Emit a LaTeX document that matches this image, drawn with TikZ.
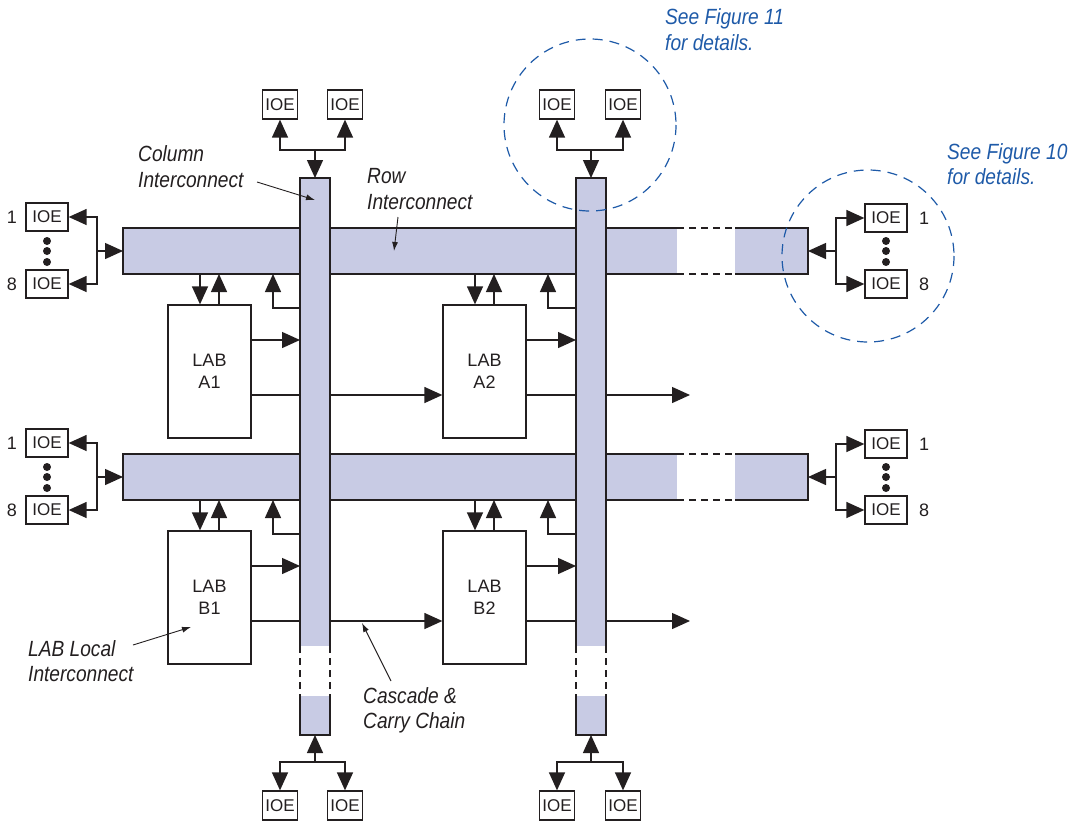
\documentclass[tikz,border=0pt]{standalone}
\usepackage{fontspec}
\setmainfont{Liberation Sans}
\newfontfamily\calloutfont[FakeStretch=0.87]{Liberation Sans}
\usetikzlibrary{arrows.meta}
\definecolor{shade}{RGB}{200,203,228}
\definecolor{ink}{RGB}{35,31,32}
\definecolor{noteblue}{RGB}{30,90,168}
\tikzset{
  ln/.style={draw=ink, line width=1.4pt},
  arr/.style={ln, -{Triangle[length=18pt,width=16pt]}},
  ioe/.style={draw=ink, line width=1.3pt, fill=white, minimum width=35pt, minimum height=29pt, inner sep=0pt, text=ink, font=\fontsize{17}{17}\selectfont},
  ioew/.style={ioe, minimum width=42pt, minimum height=28pt},
  lab/.style={draw=ink, line width=1.3pt, fill=white, minimum width=83pt, minimum height=133pt, inner sep=0pt, align=center, text=ink, font=\fontsize{18}{22}\selectfont},
  band/.style={fill=shade, inner sep=0pt, outer sep=0pt},
  callout/.style={font=\calloutfont\itshape\fontsize{22}{26}\selectfont, anchor=base west, inner sep=0pt, text=ink},
  note/.style={callout, text=noteblue},
  ptr/.style={draw=ink, line width=0.9pt, -{Latex[length=9pt,width=6pt]}},
  dot/.style={circle, fill=ink, inner sep=0pt, minimum size=8pt},
  num/.style={font=\fontsize{18}{18}\selectfont, inner sep=0pt, text=ink},
  gap/.style={draw=ink, line width=1.4pt, dash pattern=on 7pt off 5pt},
  ring/.style={draw=noteblue, line width=1.2pt, dash pattern=on 10pt off 7pt},
}
\begin{document}
\begin{tikzpicture}[x=1pt,y=-1pt]
\useasboundingbox (0,0) rectangle (1079,822);

% ---------- rows ----------
\node[band, minimum width=554pt, minimum height=46pt] (R1) at (400,251) {};
\node[band, minimum width=73pt, minimum height=46pt] (R1x) at (771.5,251) {};
\draw[ln] (R1.north east) -- (R1.north west) -- (R1.south west) -- (R1.south east);
\draw[gap] (R1.north east) -- (R1x.north west);
\draw[gap] (R1.south east) -- (R1x.south west);
\draw[ln] (R1x.north west) -- (R1x.north east) -- (R1x.south east) -- (R1x.south west);

\node[band, minimum width=554pt, minimum height=46pt] (R2) at (400,477) {};
\node[band, minimum width=73pt, minimum height=46pt] (R2x) at (771.5,477) {};
\draw[ln] (R2.north east) -- (R2.north west) -- (R2.south west) -- (R2.south east);
\draw[gap] (R2.north east) -- (R2x.north west);
\draw[gap] (R2.south east) -- (R2x.south west);
\draw[ln] (R2x.north west) -- (R2x.north east) -- (R2x.south east) -- (R2x.south west);

% ---------- LABs ----------
\node[lab] (A1) at (209.5,371.5) {LAB\\A1};
\node[lab] (A2) at (484.5,371.5) {LAB\\A2};
\node[lab] (B1) at (209.5,597.5) {LAB\\B1};
\node[lab] (B2) at (484.5,597.5) {LAB\\B2};

% chain lines (pass under the columns)
\coordinate (oA) at (690,395);
\coordinate (oB) at (690,621);
\draw[arr] (A1.east |- 0,395) -- (A2.west |- 0,395);
\draw[arr] (A2.east |- 0,395) -- (oA);
\draw[arr] (B1.east |- 0,621) -- (B2.west |- 0,621);
\draw[arr] (B2.east |- 0,621) -- (oB);

% ---------- columns ----------
\node[band, minimum width=30pt, minimum height=468pt] (C1) at (315,412) {};
\node[band, minimum width=30pt, minimum height=39pt] (C1x) at (315,715.5) {};
\draw[ln] (C1.south west) -- (C1.north west) -- (C1.north east) -- (C1.south east);
\draw[gap] (C1.south west) -- (C1x.north west);
\draw[gap] (C1.south east) -- (C1x.north east);
\draw[ln] (C1x.north west) -- (C1x.south west) -- (C1x.south east) -- (C1x.north east);

\node[band, minimum width=30pt, minimum height=468pt] (C2) at (591,412) {};
\node[band, minimum width=30pt, minimum height=39pt] (C2x) at (591,715.5) {};
\draw[ln] (C2.south west) -- (C2.north west) -- (C2.north east) -- (C2.south east);
\draw[gap] (C2.south west) -- (C2x.north west);
\draw[gap] (C2.south east) -- (C2x.north east);
\draw[ln] (C2x.north west) -- (C2x.south west) -- (C2x.south east) -- (C2x.north east);

% ---------- LAB <-> row / column ----------
\draw[arr] (200,0 |- R1.south) -- (200,0 |- A1.north);
\draw[arr] (219,0 |- A1.north) -- (219,0 |- R1.south);
\draw[arr] (C1.west |- 0,308) -| (273,0 |- R1.south);
\draw[arr] (A1.east |- 0,340) -- (C1.west |- 0,340);

\draw[arr] (475,0 |- R1.south) -- (475,0 |- A2.north);
\draw[arr] (494,0 |- A2.north) -- (494,0 |- R1.south);
\draw[arr] (C2.west |- 0,308) -| (548,0 |- R1.south);
\draw[arr] (A2.east |- 0,340) -- (C2.west |- 0,340);

\draw[arr] (200,0 |- R2.south) -- (200,0 |- B1.north);
\draw[arr] (219,0 |- B1.north) -- (219,0 |- R2.south);
\draw[arr] (C1.west |- 0,534) -| (273,0 |- R2.south);
\draw[arr] (B1.east |- 0,566) -- (C1.west |- 0,566);

\draw[arr] (475,0 |- R2.south) -- (475,0 |- B2.north);
\draw[arr] (494,0 |- B2.north) -- (494,0 |- R2.south);
\draw[arr] (C2.west |- 0,534) -| (548,0 |- R2.south);
\draw[arr] (B2.east |- 0,566) -- (C2.west |- 0,566);

% ---------- top IOEs ----------
\node[ioe] (T1a) at (280,104.5) {IOE};
\node[ioe] (T1b) at (345,104.5) {IOE};
\coordinate (J1) at (315,150);
\draw[arr] (J1) -| (T1a.south);
\draw[arr] (J1) -| (T1b.south);
\draw[arr] (J1) -- (C1.north);

\node[ioe] (T2a) at (557,104.5) {IOE};
\node[ioe] (T2b) at (623,104.5) {IOE};
\coordinate (J2) at (591,150);
\draw[arr] (J2) -| (T2a.south);
\draw[arr] (J2) -| (T2b.south);
\draw[arr] (J2) -- (C2.north);

% ---------- bottom IOEs ----------
\node[ioe] (D1a) at (280,805.5) {IOE};
\node[ioe] (D1b) at (345,805.5) {IOE};
\coordinate (K1) at (315,762);
\draw[arr] (K1) -- (C1x.south);
\draw[arr] (K1) -| (D1a.north);
\draw[arr] (K1) -| (D1b.north);

\node[ioe] (D2a) at (557,805.5) {IOE};
\node[ioe] (D2b) at (623,805.5) {IOE};
\coordinate (K2) at (591,762);
\draw[arr] (K2) -- (C2x.south);
\draw[arr] (K2) -| (D2a.north);
\draw[arr] (K2) -| (D2b.north);

% ---------- left IOE stacks ----------
\node[ioew] (L1a) at (47,217) {IOE};
\node[ioew] (L1b) at (47,284) {IOE};
\node[dot] (L1d1) at (47,241) {};
\node[dot] (L1d2) at (47,251) {};
\node[dot] (L1d3) at (47,262) {};
\node[num] (L1n1) at (12,217) {1};
\node[num] (L1n8) at (12,284) {8};
\coordinate (JL1) at (97,251);
\draw[arr] (JL1) |- (L1a.east);
\draw[arr] (JL1) |- (L1b.east);
\draw[arr] (JL1) -- (R1.west);

\node[ioew] (L2a) at (47,443) {IOE};
\node[ioew] (L2b) at (47,510) {IOE};
\node[dot] (L2d1) at (47,467) {};
\node[dot] (L2d2) at (47,477) {};
\node[dot] (L2d3) at (47,488) {};
\node[num] (L2n1) at (12,443) {1};
\node[num] (L2n8) at (12,510) {8};
\coordinate (JL2) at (97,477);
\draw[arr] (JL2) |- (L2a.east);
\draw[arr] (JL2) |- (L2b.east);
\draw[arr] (JL2) -- (R2.west);

% ---------- right IOE stacks ----------
\node[ioew] (Q1a) at (886,218) {IOE};
\node[ioew] (Q1b) at (886,284) {IOE};
\node[dot] (Q1d1) at (886,241) {};
\node[dot] (Q1d2) at (886,251) {};
\node[dot] (Q1d3) at (886,262) {};
\node[num] (Q1n1) at (924,218) {1};
\node[num] (Q1n8) at (924,284) {8};
\coordinate (JR1) at (836,251);
\draw[arr] (JR1) -- (R1x.east);
\draw[arr] (JR1) |- (Q1a.west);
\draw[arr] (JR1) |- (Q1b.west);

\node[ioew] (Q2a) at (886,444) {IOE};
\node[ioew] (Q2b) at (886,510) {IOE};
\node[dot] (Q2d1) at (886,467) {};
\node[dot] (Q2d2) at (886,477) {};
\node[dot] (Q2d3) at (886,488) {};
\node[num] (Q2n1) at (924,444) {1};
\node[num] (Q2n8) at (924,510) {8};
\coordinate (JR2) at (836,477);
\draw[arr] (JR2) -- (R2x.east);
\draw[arr] (JR2) |- (Q2a.west);
\draw[arr] (JR2) |- (Q2b.west);

% ---------- callouts ----------
\node[callout] (colA) at (138,161) {Column};
\node[callout] (colB) at (138,187) {Interconnect};
\coordinate (pc0) at (257,182);
\coordinate (pc1) at (315,200);
\draw[ptr] (pc0) -- (pc1);

\node[callout] (rowA) at (367,183) {Row};
\node[callout] (rowB) at (367,209) {Interconnect};
\coordinate (pr0) at (398,217);
\coordinate (pr1) at (394,251);
\draw[ptr] (pr0) -- (pr1);

\node[callout] (locA) at (28,656) {LAB Local};
\node[callout] (locB) at (28,681) {Interconnect};
\coordinate (pl0) at (133,645);
\coordinate (pl1) at (191,627);
\draw[ptr] (pl0) -- (pl1);

\node[callout] (casA) at (363,703) {Cascade \&};
\node[callout] (casB) at (363,728) {Carry Chain};
\coordinate (pk0) at (391,681);
\coordinate (pk1) at (362,623);
\draw[ptr] (pk0) -- (pk1);

% ---------- detail notes ----------
\draw[ring] (590,125) circle[radius=86];
\draw[ring] (868,256) circle[radius=86];
\node[note] (n11a) at (665,24) {See Figure 11};
\node[note] (n11b) at (665,50) {for details.};
\node[note] (n10a) at (947,159) {See Figure 10};
\node[note] (n10b) at (947,184) {for details.};
\end{tikzpicture}
\end{document}
